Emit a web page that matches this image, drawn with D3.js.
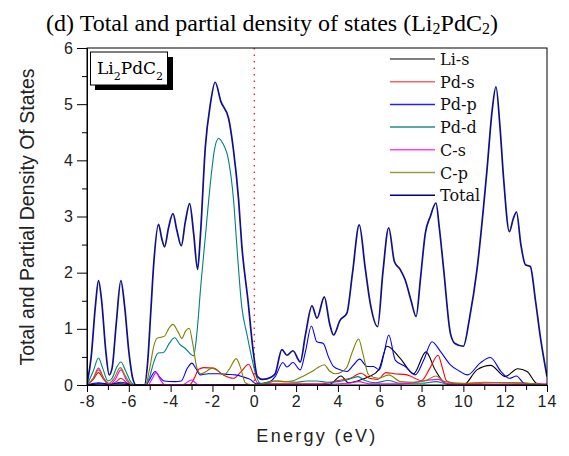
<!DOCTYPE html>
<html>
<head>
<meta charset="utf-8">
<script src="https://cdn.jsdelivr.net/npm/d3@7"></script>
<style>
  html, body { margin: 0; padding: 0; background: #fff; }
  svg { display: block; }
</style>
</head>
<body>
<svg id="chart" width="569" height="456"></svg>
<script>
// ---------- DATA (energy eV, DOS) ----------
const seriesNames = ["Li-s", "Pd-s", "Pd-p", "Pd-d", "C-s", "C-p", "Total"];
const xTicks = [-8, -6, -4, -2, 0, 2, 4, 6, 8, 10, 12, 14];
const yTicks = [0, 1, 2, 3, 4, 5, 6];

const liS = [[-8,0],[-7.45,0.02],[-6.38,0.02],[-5.5,0],[-1,0.01],[0,0.01],[1,0.01],[3.0,0.01],[3.6,0.01],[4.15,0.16],[4.5,0.04],[5.0,0.08],[5.5,0.15],[5.95,0.27],[6.35,0.69],[6.99,0.47],[7.62,0.2],[8.21,0.59],[8.65,0.27],[9.14,0.03],[9.5,0],[10.0,0],[10.65,0.27],[11.3,0.35],[12.0,0.15],[12.6,0.29],[13.05,0.24],[13.5,0.03],[14,0]];

const pdS = [[-8,0],[-7.7,0.1],[-7.45,0.22],[-7.2,0.1],[-6.95,0.01],[-6.6,0.06],[-6.38,0.12],[-6.1,0.04],[-5.8,0],[-3.1,0],[-2.9,0.1],[-2.65,0.28],[-2.42,0.31],[-1.95,0.3],[-1.48,0.18],[-1.0,0.12],[-0.6,0.25],[-0.27,0.37],[-0.05,0.2],[0.15,0.04],[0.5,0.02],[3.0,0.02],[3.5,0.03],[4.0,0.08],[4.6,0.12],[5.1,0.21],[5.5,0.12],[5.9,0.1],[6.3,0.22],[6.7,0.2],[7.3,0.18],[8.0,0.08],[8.4,0.3],[8.79,0.53],[9.0,0.3],[9.2,0.07],[9.6,0.02],[10.5,0.03],[11.5,0.04],[12.5,0.04],[13.5,0.02],[14,0]];

const pdP = [[-8,0],[-7.45,0.04],[-6.9,0.01],[-6.38,0.05],[-5.9,0.01],[-5.2,0],[-5.0,0.1],[-4.74,0.24],[-4.5,0.13],[-4.3,0.07],[-3.8,0.06],[-3.5,0.07],[-3.2,0.3],[-2.98,0.39],[-2.8,0.3],[-2.58,0.18],[-2.2,0.2],[-1.7,0.2],[-1.3,0.19],[-0.9,0.18],[-0.51,0.14],[-0.2,0.1],[0.1,0.02],[0.4,0.03],[0.8,0.07],[1.0,0.15],[1.37,0.4],[1.56,0.32],[1.85,0.4],[2.2,0.27],[2.45,0.6],[2.73,1.05],[2.99,0.77],[3.3,0.74],[3.55,0.5],[3.79,0.33],[4.1,0.27],[4.43,0.24],[4.75,0.36],[5.04,0.46],[5.4,0.33],[5.7,0.33],[5.98,0.27],[6.2,0.55],[6.43,0.89],[6.75,0.44],[7.22,0.33],[7.7,0.18],[8.1,0.44],[8.5,0.77],[8.9,0.6],[9.38,0.36],[9.8,0.25],[10.2,0.18],[10.8,0.39],[11.29,0.49],[11.8,0.24],[12.2,0.12],[12.54,0.16],[12.9,0.03],[13.3,0.01],[14,0]];

const pdD = [[-8,0],[-7.7,0.25],[-7.45,0.48],[-7.25,0.3],[-7.0,0.07],[-6.8,0.12],[-6.6,0.3],[-6.38,0.41],[-6.15,0.25],[-5.9,0.05],[-5.7,0],[-5.2,0],[-5.0,0.15],[-4.82,0.39],[-4.6,0.57],[-4.35,0.58],[-4.05,0.75],[-3.81,0.84],[-3.55,0.72],[-3.3,0.65],[-2.9,0.52],[-2.75,0.9],[-2.55,1.8],[-2.34,2.64],[-2.1,3.59],[-1.9,4.2],[-1.71,4.39],[-1.5,4.3],[-1.23,4.0],[-0.99,3.29],[-0.83,2.46],[-0.6,1.4],[-0.35,0.9],[-0.1,0.45],[0.1,0.15],[0.35,0.02],[0.6,0.03],[1.0,0.07],[1.5,0.06],[2.0,0.05],[2.5,0.07],[3.0,0.07],[3.5,0.05],[4.0,0.06],[4.5,0.1],[4.95,0.15],[5.3,0.08],[5.8,0.04],[6.4,0.08],[7.0,0.03],[8.0,0.03],[8.7,0.06],[9.2,0.02],[10,0.01],[14,0.01]];

const cS = [[-8,0],[-7.7,0.12],[-7.45,0.3],[-7.2,0.12],[-6.95,0.01],[-6.65,0.1],[-6.38,0.27],[-6.1,0.08],[-5.8,0],[-5.1,0],[-4.9,0.1],[-4.7,0.22],[-4.5,0.1],[-4.3,0.01],[-3.4,0.01],[-3.0,0.09],[-2.7,0.01],[-2,0],[0,0],[3,0.01],[4.5,0.03],[5.0,0.06],[5.5,0.02],[7,0.02],[8.8,0.1],[9.2,0.02],[10,0.01],[14,0.02]];

const cP = [[-8,0],[-7.7,0.12],[-7.45,0.27],[-7.2,0.12],[-6.95,0.03],[-6.7,0.12],[-6.41,0.31],[-6.15,0.15],[-5.9,0.02],[-5.7,0],[-5.2,0],[-5.0,0.3],[-4.8,0.7],[-4.66,0.83],[-4.29,0.87],[-4.1,1.0],[-3.89,1.08],[-3.65,0.95],[-3.46,0.83],[-3.3,0.95],[-3.11,1.01],[-2.95,0.75],[-2.74,0.3],[-2.55,0.2],[-2.3,0.24],[-2.03,0.3],[-1.7,0.24],[-1.45,0.18],[-1.2,0.28],[-0.86,0.47],[-0.65,0.3],[-0.43,0.04],[-0.2,0.01],[0.3,0.01],[0.6,0.05],[1.0,0.07],[1.5,0.06],[1.9,0.08],[2.3,0.15],[2.76,0.24],[3.0,0.3],[3.35,0.36],[3.6,0.25],[3.9,0.2],[4.4,0.3],[4.7,0.6],[4.99,0.82],[5.2,0.55],[5.47,0.18],[5.95,0.12],[6.43,0.18],[7.0,0.06],[7.6,0.05],[8.2,0.08],[8.7,0.16],[9.1,0.06],[10,0.03],[11,0.05],[12,0.04],[13,0.03],[14,0]];

const total = [[-8,0.02],[-7.8,0.5],[-7.6,1.4],[-7.45,1.86],[-7.3,1.5],[-7.1,0.6],[-6.94,0.18],[-6.8,0.3],[-6.6,1.1],[-6.38,1.86],[-6.2,1.4],[-6.0,0.6],[-5.8,0.1],[-5.65,0],[-5.25,0],[-5.1,0.4],[-4.95,1.3],[-4.8,2.2],[-4.58,2.86],[-4.42,2.6],[-4.29,2.46],[-4.1,2.8],[-3.89,3.05],[-3.7,2.75],[-3.49,2.48],[-3.3,2.9],[-3.09,3.23],[-2.9,2.7],[-2.71,2.06],[-2.58,2.64],[-2.34,4.24],[-2.1,5.0],[-1.87,5.39],[-1.6,5.05],[-1.23,4.75],[-1.0,4.2],[-0.75,3.3],[-0.6,2.5],[-0.3,1.5],[-0.05,0.6],[0.15,0.15],[0.4,0.1],[0.8,0.14],[1.0,0.2],[1.32,0.63],[1.56,0.53],[1.85,0.61],[2.2,0.41],[2.45,0.9],[2.76,1.41],[3.0,1.19],[3.35,1.57],[3.6,1.1],[3.79,0.89],[4.1,1.15],[4.43,1.28],[4.7,2.0],[5.02,2.85],[5.3,2.1],[5.55,1.45],[5.9,1.04],[6.15,2.0],[6.43,2.8],[6.7,2.2],[6.99,2.05],[7.22,1.87],[7.5,1.5],[7.74,1.22],[7.95,1.9],[8.18,2.7],[8.42,3.0],[8.69,3.24],[8.85,2.8],[9.06,2.05],[9.38,0.92],[9.6,0.74],[10.0,0.69],[10.3,1.2],[10.65,2.05],[11.13,3.83],[11.38,4.9],[11.56,5.31],[11.75,4.6],[11.93,3.65],[12.2,2.73],[12.38,2.95],[12.54,3.08],[12.75,2.5],[12.97,2.14],[13.2,2.11],[13.45,1.5],[13.68,0.86],[14,0.15]];

const seriesData = [liS, pdS, pdP, pdD, cS, cP, total];
const seriesColors = ["#000000", "#ff0000", "#0000ff", "#008080", "#ff00ff", "#808000", "#10108a"];
const legendColors = ["#555555", "#ff6060", "#2020ff", "#208c8c", "#ff40ff", "#a09a40", "#000080"];

// ---------- LAYOUT ----------
const svg = d3.select("#chart");
const L = 87, R = 547, T = 48, B = 385;
const x = d3.scaleLinear().domain([-8, 14]).range([L, R]);
const y = d3.scaleLinear().domain([0, 6]).range([B, T]);

svg.append("text").attr("x", 272).attr("y", 31)
  .attr("text-anchor", "middle")
  .attr("font-family", "Liberation Serif, Times New Roman, serif")
  .attr("font-size", 24).attr("fill", "#000")
  .call(t => {
    t.append("tspan").text("(d) Total and partial density of states (Li");
    t.append("tspan").attr("font-size", 16).attr("dy", 3).text("2");
    t.append("tspan").attr("dy", -3).text("PdC");
    t.append("tspan").attr("font-size", 16).attr("dy", 3).text("2");
    t.append("tspan").attr("dy", -3).text(")");
  });

svg.append("defs").append("clipPath").attr("id", "clip")
  .append("rect").attr("x", L).attr("y", T).attr("width", R - L).attr("height", B - T);

// Fermi level
svg.append("line").attr("x1", x(0)).attr("x2", x(0)).attr("y1", T).attr("y2", B)
  .attr("stroke", "#ff0000").attr("stroke-width", 1.2).attr("stroke-dasharray", "1.5,5");

const line = d3.line().x(d => x(d[0])).y(d => y(d[1])).curve(d3.curveMonotoneX);
const g = svg.append("g").attr("clip-path", "url(#clip)");
seriesData.forEach((s, i) => {
  g.append("path").attr("d", line(s)).attr("fill", "none")
    .attr("stroke", seriesColors[i])
    .attr("stroke-width", i === 6 ? 1.7 : 1.1)
    .attr("stroke-linejoin", "round");
});

svg.append("rect").attr("x", L).attr("y", T).attr("width", R - L).attr("height", B - T)
  .attr("fill", "none").attr("stroke", "#000").attr("stroke-width", 1);

const fmt = d => String(d);
const xAxis = d3.axisBottom(x).tickValues(xTicks).tickSize(7).tickPadding(4).tickFormat(fmt);
const gx = svg.append("g").attr("transform", `translate(0,${B})`).call(xAxis);
const xMinor = d3.axisBottom(x).tickValues(d3.range(-7, 14, 2)).tickSize(5).tickFormat("");
svg.append("g").attr("transform", `translate(0,${B})`).call(xMinor).select(".domain").remove();

const yAxis = d3.axisLeft(y).tickValues(yTicks).tickSize(10).tickPadding(4).tickFormat(fmt);
const gy = svg.append("g").attr("transform", `translate(${L},0)`).call(yAxis);
const yMinor = d3.axisLeft(y).tickValues(d3.range(0.5, 6, 1)).tickSize(5).tickFormat("");
svg.append("g").attr("transform", `translate(${L},0)`).call(yMinor).select(".domain").remove();

svg.selectAll(".tick text")
  .attr("font-family", "Liberation Sans, Arial, sans-serif")
  .attr("font-size", 16).attr("fill", "#222");
gx.selectAll(".tick text").attr("letter-spacing", 1);
svg.selectAll(".domain").attr("stroke", "#000");
svg.selectAll(".tick line").attr("stroke", "#000");

svg.append("text").attr("x", 317).attr("y", 442).attr("text-anchor", "middle")
  .attr("font-family", "Liberation Sans, Arial, sans-serif")
  .attr("font-size", 18).attr("letter-spacing", 2.3).attr("fill", "#222")
  .text("Energy (eV)");
svg.append("text")
  .attr("transform", "translate(34,217) rotate(-90)")
  .attr("text-anchor", "middle")
  .attr("font-family", "Liberation Sans, Arial, sans-serif")
  .attr("font-size", 19.5).attr("fill", "#222")
  .text("Total and Partial Density Of States");

// inset label
svg.append("rect").attr("x", 95).attr("y", 57).attr("width", 78).attr("height", 33).attr("fill", "#000");
svg.append("rect").attr("x", 90.5).attr("y", 52).attr("width", 77).attr("height", 33)
  .attr("fill", "#fff").attr("stroke", "#000").attr("stroke-width", 1);
svg.append("text").attr("x", 97).attr("y", 74)
  .attr("font-family", "DejaVu Serif, serif").attr("font-size", 17).attr("fill", "#000")
  .call(t => {
    t.append("tspan").text("Li");
    t.append("tspan").attr("font-size", 11).attr("dy", 6).text("2");
    t.append("tspan").attr("dy", -6).text("PdC");
    t.append("tspan").attr("font-size", 11).attr("dy", 6).text("2");
  });

// legend
const lg = svg.append("g");
seriesNames.forEach((n, i) => {
  const ly = 59 + i * 22.7;
  lg.append("line").attr("x1", 390).attr("x2", 435).attr("y1", ly).attr("y2", ly)
    .attr("stroke", legendColors[i]).attr("stroke-width", 1.5);
  lg.append("text").attr("x", 440).attr("y", ly + 6)
    .attr("font-family", "DejaVu Serif, serif").attr("font-size", 16).attr("fill", "#111")
    .text(n);
});
</script>
</body>
</html>
